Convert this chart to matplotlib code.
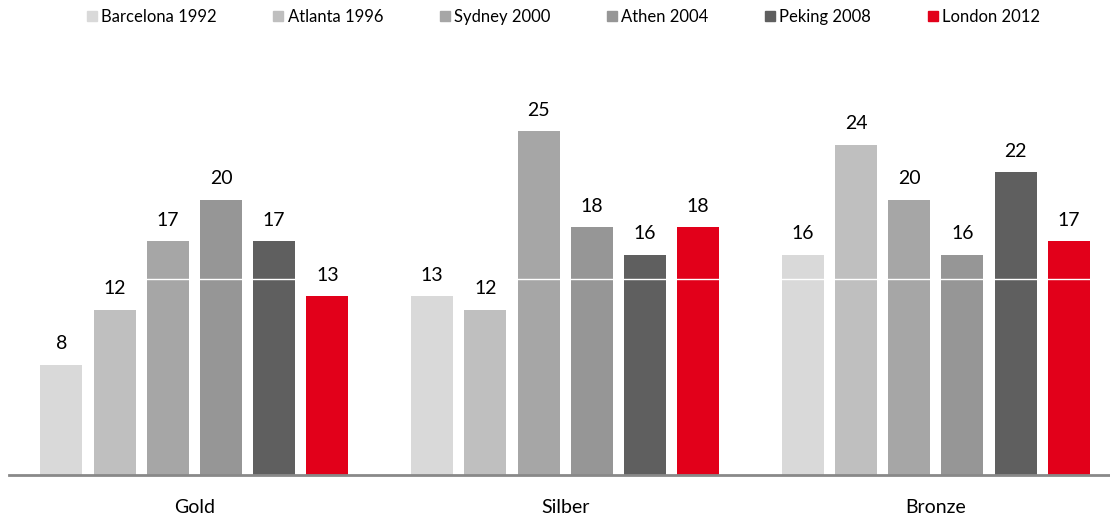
import matplotlib.pyplot as plt
from matplotlib.patches import Rectangle

plt.rcParams['font.family'] = ['Lato', 'DejaVu Sans']

categories = ['Gold', 'Silber', 'Bronze']
games = ['Barcelona 1992', 'Atlanta 1996', 'Sydney 2000', 'Athen 2004', 'Peking 2008', 'London 2012']
colors = ['#D9D9D9', '#BFBFBF', '#A6A6A6', '#969696', '#5F5F5F', '#E2001A']

barcelona = [8, 13, 16]
atlanta = [12, 12, 24]
sydney = [17, 25, 20]
athen = [20, 18, 16]
peking = [17, 16, 22]
london = [13, 18, 17]
series = [barcelona, atlanta, sydney, athen, peking, london]

fig = plt.figure(figsize=(11.1, 5.2), dpi=100)
ax = fig.add_axes([9 / 1110, 45 / 520, 1101 / 1110, 392 / 520])

step = 0.1435
width = 0.1133
x = range(len(categories))
for i, (vals, col) in enumerate(zip(series, colors)):
    pos = [c + (i - 2.5) * step for c in x]
    bars = ax.bar(pos, vals, width=width, color=col, zorder=2)
    for b, v in zip(bars, vals):
        ax.annotate(str(v), (b.get_x() + b.get_width() / 2, v),
                    xytext=(0, 9), textcoords='offset points',
                    ha='center', va='bottom', fontsize=14, color='#000000',
                    zorder=4)

# white gridline across the middle, over the bars but under the labels
ax.axhline(14.25, color='white', lw=1, zorder=2.5)

ax.set_xlim(-0.5, 2.4696)
ax.set_ylim(0, 28.5)
ax.set_yticks([])
ax.set_xticks(list(x))
ax.set_xticklabels(categories, fontsize=14)
ax.tick_params(axis='x', length=0, pad=17)
for s in ['top', 'right', 'left']:
    ax.spines[s].set_visible(False)
ax.spines['bottom'].set_color('#898989')
ax.spines['bottom'].set_linewidth(2)

handles = [Rectangle((0, 0), 1, 1, color=c) for c in colors]
fig.legend(handles, games, loc='center', bbox_to_anchor=(563.5 / 1110, 1 - 17 / 520), ncol=6,
           frameon=False, fontsize=12, handlelength=0.6, handleheight=0.6,
           handletextpad=0.25, columnspacing=3.4, borderpad=0)

fig.savefig('out.png')
